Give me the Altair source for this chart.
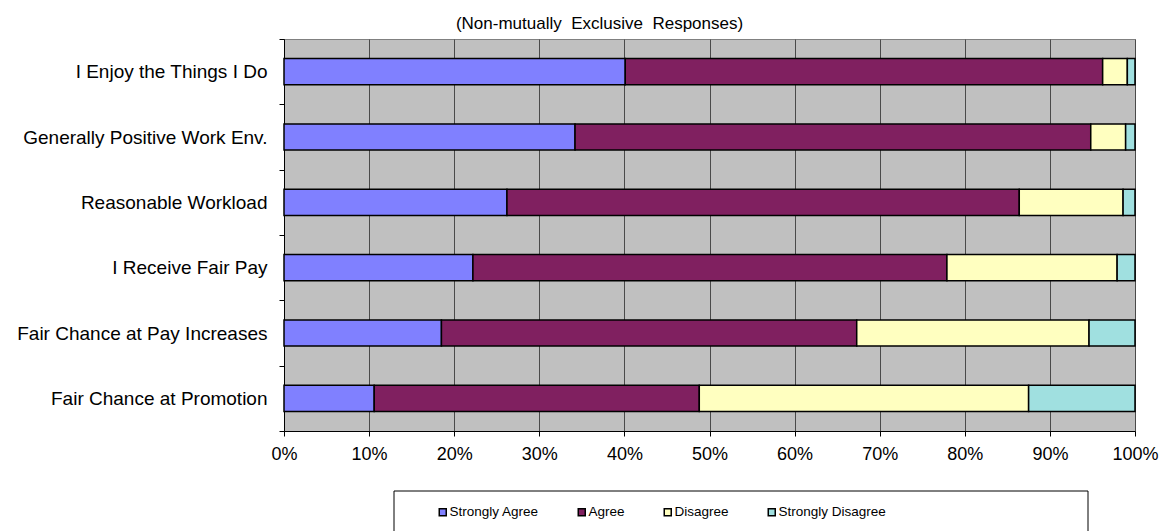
import altair as alt
import pandas as pd

# Survey statements, top to bottom
items = [
    "I Enjoy the Things I Do",
    "Generally Positive Work Env.",
    "Reasonable Workload",
    "I Receive Fair Pay",
    "Fair Chance at Pay Increases",
    "Fair Chance at Promotion",
]
responses = ["Strongly Agree", "Agree", "Disagree", "Strongly Disagree"]

# Share of responses (percent) for each statement
strongly_agree = [40.1, 34.2, 26.2, 22.2, 18.5, 10.6]
agree = [56.1, 60.6, 60.2, 55.7, 48.8, 38.2]
disagree = [2.9, 4.1, 12.2, 20.0, 27.3, 38.7]
strongly_disagree = [0.9, 1.1, 1.4, 2.1, 5.4, 12.5]

colors = ["#8080FF", "#802060", "#FFFFC0", "#A0E0E0"]
x_ticks = [i / 10 for i in range(11)]

FONT = "Liberation Sans"

rows = []
for rank, (resp, vals) in enumerate(
    zip(responses, [strongly_agree, agree, disagree, strongly_disagree])
):
    for item, v in zip(items, vals):
        rows.append({"item": item, "response": resp, "share": v / 100, "rank": rank})
df = pd.DataFrame(rows)

bars = alt.Chart(df).mark_bar(
    height=alt.RelativeBandSize(0.4), stroke="black", strokeWidth=1.5
).encode(
    x=alt.X(
        "share:Q",
        stack="zero",
        scale=alt.Scale(domain=[0, 1], nice=False),
        axis=alt.Axis(
            values=x_ticks,
            format=".0%",
            title=None,
            grid=True,
            gridColor="#4a4a4a",
            gridWidth=1,
            domainColor="black",
            tickColor="black",
            tickSize=5,
            labelFont=FONT,
            labelFontSize=18,
            labelColor="black",
            labelPadding=9,
            labelFlush=False,
        ),
    ),
    y=alt.Y(
        "item:N",
        sort=items,
        scale=alt.Scale(paddingInner=0, paddingOuter=0),
        axis=alt.Axis(
            title=None,
            tickBand="extent",
            grid=False,
            domainColor="black",
            tickColor="black",
            tickSize=5,
            labelFont=FONT,
            labelFontSize=19,
            labelColor="black",
            labelPadding=12,
            labelLimit=400,
        ),
    ),
    color=alt.Color(
        "response:N",
        sort=responses,
        scale=alt.Scale(domain=responses, range=colors),
        legend=alt.Legend(
            title=None,
            orient="none",
            direction="horizontal",
            legendX=152,
            legendY=466,
            symbolType="square",
            symbolSize=49,
            symbolStrokeColor="black",
            symbolStrokeWidth=1.5,
            symbolOpacity=1,
            labelFont=FONT,
            labelFontSize=13.5,
            labelColor="black",
            labelOffset=0,
            columnPadding=36,
        ),
    ),
    order=alt.Order("rank:Q"),
)

# Border around the legend
legend_frame = alt.Chart(pd.DataFrame({"k": [0]})).mark_rect(
    fill="white", stroke="black", strokeWidth=1
).encode(
    x=alt.value(110), x2=alt.value(804), y=alt.value(452), y2=alt.value(520)
)

chart = (
    alt.layer(legend_frame, bars)
    .properties(
        width=851,
        height=392,
        title=alt.TitleParams(
            "(Non-mutually\u00a0 Exclusive\u00a0 Responses)",
            font=FONT,
            fontSize=17,
            fontWeight="normal",
            color="black",
            anchor="middle",
            dx=-110,
            dy=10,
            offset=7,
        ),
        autosize=alt.AutoSizeParams(type="none"),
        padding={"left": 284, "top": 39, "right": 31, "bottom": 100},
        background="white",
    )
    .configure_view(fill="#C0C0C0", stroke="#808080", strokeWidth=1)
)

chart.save("out.html", embed_options={"renderer": "svg", "actions": False})
